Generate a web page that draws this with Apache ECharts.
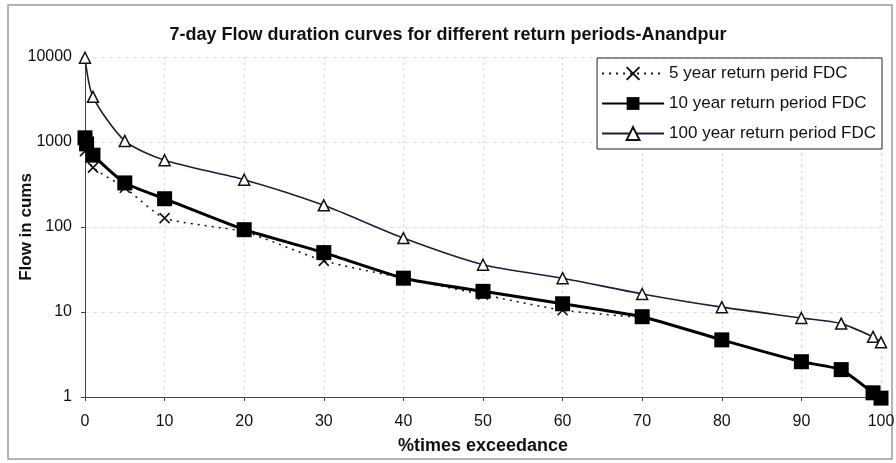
<!DOCTYPE html>
<html>
<head>
<meta charset="utf-8">
<script src="https://cdn.jsdelivr.net/npm/echarts@6/dist/echarts.min.js"></script>
<style>
  html, body { margin: 0; padding: 0; background: #fff; }
  #chart { width: 896px; height: 463px; }
</style>
</head>
<body>
<div id="chart"></div>
<script>
// 7-day flow duration curves (flow in cumecs vs % of time exceeded)
const titleText = '7-day Flow duration curves for different return periods-Anandpur';
const xTicks = [0, 10, 20, 30, 40, 50, 60, 70, 80, 90, 100];
const yTicks = [1, 10, 100, 1000, 10000];

const seriesNames = [
  '5 year return perid FDC',
  '10 year return period FDC',
  '100 year return period FDC'
];

// 5 year return period
const pct5  = [0, 1, 5, 10, 20, 30, 40, 50, 60, 70];
const flow5 = [780, 500, 290, 127, 88, 40, 25, 16, 10.5, 8.6];

// 10 year return period
const pct10  = [0, 0.2, 1, 5, 10, 20, 30, 40, 50, 60, 70, 80, 90, 95, 99, 100];
const flow10 = [1120, 950, 700, 330, 215, 93, 50, 25, 17.5, 12.5, 8.8, 4.7, 2.6, 2.1, 1.12, 0.97];

// 100 year return period
const pct100  = [0, 1, 5, 10, 20, 30, 40, 50, 60, 70, 80, 90, 95, 99, 100];
const flow100 = [9800, 3400, 1030, 610, 360, 180, 74, 36, 25, 16.3, 11.4, 8.5, 7.3, 5.1, 4.4];

const pair = (xs, ys) => xs.map((x, i) => [x, ys[i]]);

const chart = echarts.init(document.getElementById('chart'), null, { renderer: 'canvas' });

const labelFont = '"Liberation Sans", "DejaVu Sans", sans-serif';

chart.setOption({
  backgroundColor: '#ffffff',
  animation: false,
  title: {
    text: titleText,
    left: 'center',
    top: 21,
    textStyle: { fontFamily: labelFont, fontSize: 18, fontWeight: 'bold', color: '#111' }
  },
  graphic: [{
    type: 'rect',
    shape: { x: 8, y: 5, width: 884, height: 454 },
    style: { fill: 'none', stroke: '#9a9a9a', lineWidth: 1.5 },
    silent: true,
    z: -1
  }],
  legend: {
    orient: 'vertical',
    right: 14,
    top: 58,
    itemGap: 13,
    itemWidth: 62,
    itemHeight: 16,
    padding: [7, 6, 7, 4],
    backgroundColor: '#fff',
    borderColor: '#222',
    borderWidth: 1,
    textStyle: { fontFamily: labelFont, fontSize: 17, color: '#111' },
    data: seriesNames
  },
  grid: { left: 85, right: 15, top: 57, bottom: 66, containLabel: false, outerBoundsMode: 'none' },
  xAxis: {
    type: 'value',
    min: 0,
    max: 100,
    interval: 10,
    name: '%times exceedance',
    nameLocation: 'middle',
    nameGap: 40,
    nameMoveOverlap: false,
    nameTextStyle: { fontFamily: labelFont, fontSize: 18, fontWeight: 'bold', color: '#111' },
    axisLine: { lineStyle: { color: '#444', width: 1 } },
    axisTick: { show: true, length: 4, lineStyle: { color: '#444' } },
    axisLabel: { fontFamily: labelFont, fontSize: 16, color: '#111', margin: 17,
      formatter: v => (xTicks.includes(v) ? String(v) : '') },
    splitLine: { show: true, lineStyle: { color: '#d4d4d4', type: [2, 4], width: 1 } }
  },
  yAxis: {
    type: 'log',
    logBase: 10,
    min: 1,
    max: 10000,
    name: 'Flow in cums',
    nameLocation: 'middle',
    nameGap: 50,
    nameMoveOverlap: false,
    nameRotate: 90,
    nameTextStyle: { fontFamily: labelFont, fontSize: 17, fontWeight: 'bold', color: '#111' },
    axisLine: { show: true, lineStyle: { color: '#444', width: 1 } },
    axisTick: { show: true, length: 4, lineStyle: { color: '#444' } },
    axisLabel: { fontFamily: labelFont, fontSize: 16, color: '#111', margin: 13,
      formatter: v => (yTicks.includes(Math.round(v)) ? String(Math.round(v)) : '') },
    splitLine: { show: true, lineStyle: { color: '#e2e2e2', type: [4, 4], width: 1 } },
    minorTick: { show: false }
  },
  series: [
    {
      name: seriesNames[0],
      type: 'line',
      data: pair(pct5, flow5),
      smooth: 0.2,
      clip: false,
      symbol: 'path://M0,0 L10,10 M10,0 L0,10',
      symbolSize: 10,
      lineStyle: { color: '#111', width: 1.5, type: [2, 5] },
      itemStyle: { color: '#111', borderColor: '#111', borderWidth: 1.6 },
      z: 1
    },
    {
      name: seriesNames[1],
      type: 'line',
      data: pair(pct10, flow10),
      smooth: 0.15,
      clip: false,
      symbol: 'rect',
      symbolSize: 15,
      lineStyle: { color: '#000', width: 3 },
      itemStyle: { color: '#000', borderColor: '#000', borderWidth: 0 },
      z: 3
    },
    {
      name: seriesNames[2],
      type: 'line',
      data: pair(pct100, flow100),
      smooth: 0.25,
      clip: false,
      symbol: 'triangle',
      symbolSize: 11,
      lineStyle: { color: '#1c1c3c', width: 1.6 },
      itemStyle: { color: '#fff', borderColor: '#111', borderWidth: 1.5 },
      z: 2
    }
  ]
});
</script>
</body>
</html>
